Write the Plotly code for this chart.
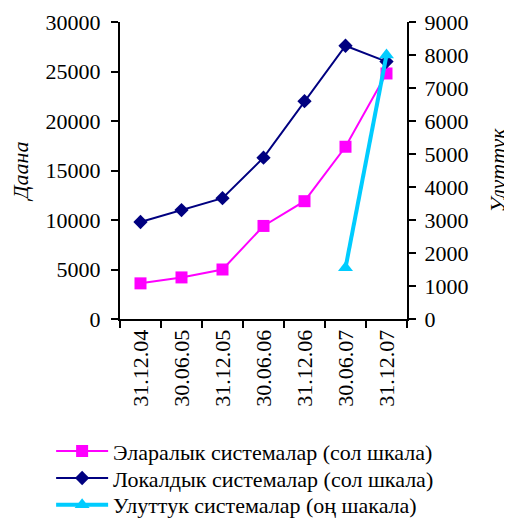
import plotly.graph_objects as go

categories = ["31.12.04", "30.06.05", "31.12.05", "30.06.06", "31.12.06", "30.06.07", "31.12.07"]
international = [3600, 4200, 5000, 9400, 11900, 17400, 24800]
local = [9800, 11000, 12200, 16300, 22000, 27600, 26000]
national_cats = ["30.06.07", "31.12.07"]
national = [1550, 8000]

names = ["Эларалык системалар (сол шкала)",
         "Локалдык системалар (сол шкала)",
         "Улуттук системалар (оң шакала)"]

FONT = "Liberation Serif, Times New Roman, serif"
FS = 22

fig = go.Figure()
fig.add_trace(go.Scatter(x=categories, y=international, name=names[0], mode="lines+markers",
                         line=dict(color="#FF00FF", width=2),
                         marker=dict(symbol="square", size=12, color="#FF00FF"),
                         legend="legend"))
fig.add_trace(go.Scatter(x=categories, y=local, name=names[1], mode="lines+markers",
                         line=dict(color="#000080", width=2),
                         marker=dict(symbol="diamond", size=11, color="#000080"),
                         legend="legend2"))
fig.add_trace(go.Scatter(x=national_cats, y=national, name=names[2], mode="lines+markers",
                         line=dict(color="#00CCFF", width=4),
                         marker=dict(symbol="triangle-up", size=13, color="#00CCFF"),
                         yaxis="y2", legend="legend3"))

axis_common = dict(showline=True, linecolor="black", linewidth=2, ticks="outside",
                   tickcolor="black", tickwidth=2, ticklen=7, showgrid=False, zeroline=False,
                   automargin=False,
                   tickfont=dict(family=FONT, size=FS, color="black"))

def leg(y):
    return dict(x=-0.24, y=y, xanchor="left", yanchor="middle",
                font=dict(family=FONT, size=FS, color="black"),
                itemwidth=52, bgcolor="rgba(0,0,0,0)")

fig.update_layout(
    width=504, height=511,
    margin=dict(l=112, r=105, t=14, b=200, autoexpand=False),
    paper_bgcolor="white", plot_bgcolor="white",
    font=dict(family=FONT, size=FS, color="black"),
    xaxis=dict(type="category", categoryorder="array", categoryarray=categories,
               range=[-0.5, 6.5], tickson="boundaries", tickangle=-90,
               **axis_common),
    yaxis=dict(range=[0, 30000], dtick=5000, tickformat="d", ticklabelstandoff=6,
               title=dict(text="<i>Даана</i>", font=dict(family=FONT, size=FS), standoff=11),
               **axis_common),
    yaxis2=dict(range=[0, 9000], dtick=1000, tickformat="d", overlaying="y", side="right",
                ticklabelstandoff=4,
                title=dict(text="<i>Улуттук</i>", font=dict(family=FONT, size=FS), standoff=22),
                **axis_common),
    legend=leg(-0.445),
    legend2=leg(-0.536),
    legend3=leg(-0.626),
    showlegend=True,
)

fig.write_html("out.html")
